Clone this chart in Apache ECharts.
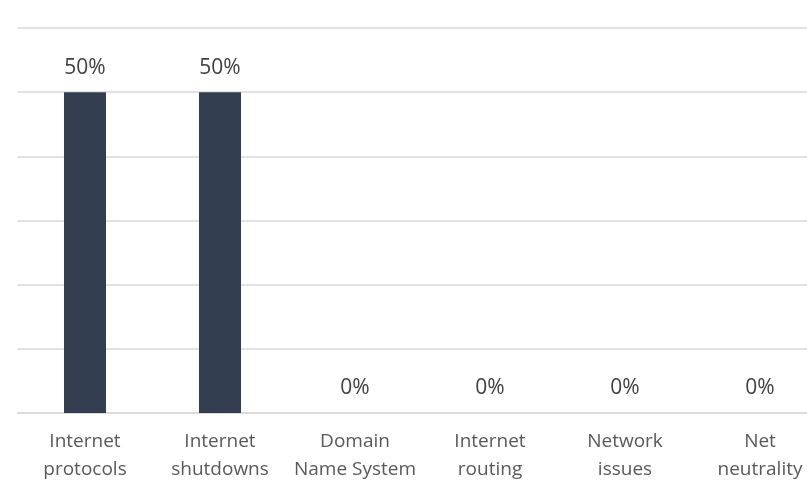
<!DOCTYPE html>
<html>
<head>
<meta charset="utf-8">
<script src="https://cdn.jsdelivr.net/npm/echarts@6/dist/echarts.min.js"></script>
<style>
html,body{margin:0;padding:0;background:#fff;}
#chart{width:807px;height:485px;}
</style>
</head>
<body>
<div id="chart"></div>
<script>
const categories = ["Internet\nprotocols", "Internet\nshutdowns", "Domain\nName System", "Internet\nrouting", "Network\nissues", "Net\nneutrality"];
const values = [50, 50, 0, 0, 0, 0];
const yMax = 60;
const yInterval = 10;

const chart = echarts.init(document.getElementById('chart'));
chart.setOption({
  animation: false,
  grid: { left: 17.5, top: 28, bottom: 72, right: -20.5, containLabel: false, outerBoundsMode: 'none' },
  xAxis: {
    type: 'category',
    data: categories,
    axisLine: { lineStyle: { color: '#d9d9d9', width: 1.5 } },
    axisTick: { show: false },
    axisLabel: {
      interval: 0,
      color: '#595959',
      fontFamily: 'Open Sans',
      fontSize: 19,
      lineHeight: 28,
      margin: 15
    }
  },
  yAxis: {
    type: 'value',
    min: 0,
    max: yMax,
    interval: yInterval,
    axisLabel: { show: false },
    axisLine: { show: false },
    axisTick: { show: false },
    splitLine: { lineStyle: { color: '#d9d9d9', width: 1.5 } }
  },
  series: [{
    type: 'bar',
    data: values,
    barWidth: 42,
    itemStyle: { color: '#333f50' },
    label: {
      show: true,
      position: 'top',
      distance: 14,
      formatter: p => p.value + '%',
      color: '#404040',
      fontFamily: 'Open Sans',
      fontSize: 21
    }
  }]
});
</script>
</body>
</html>
